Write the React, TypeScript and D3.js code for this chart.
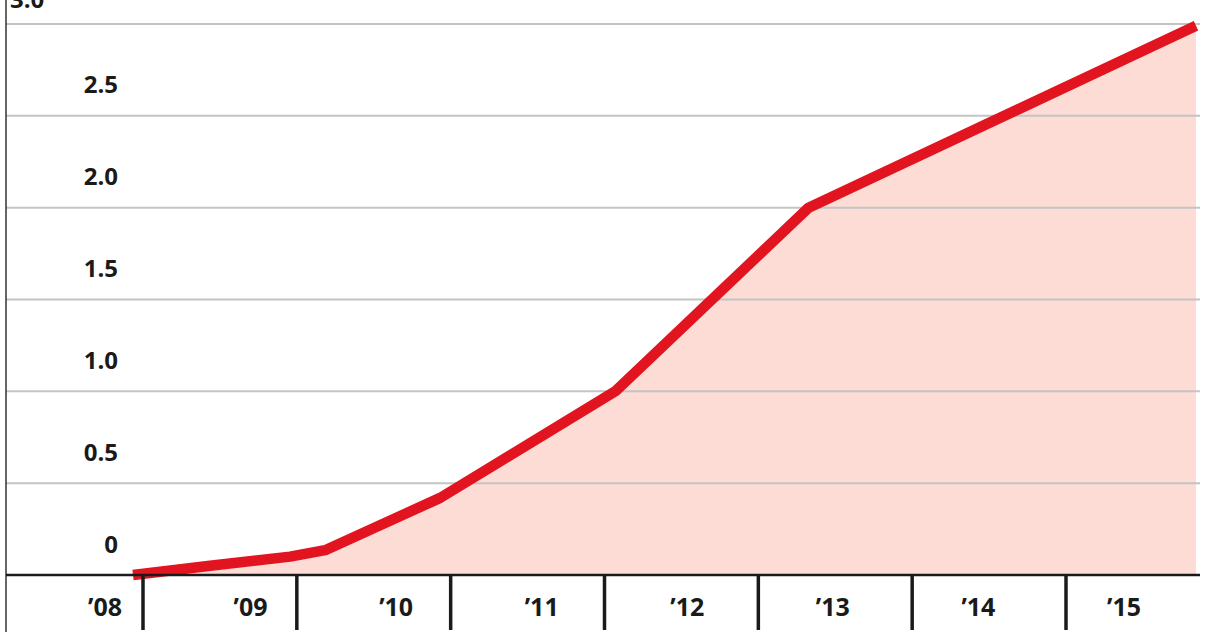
import React from "react";
import * as d3 from "d3";

const years = [2008.935, 2009.436, 2009.956, 2010.184, 2010.932, 2012.07, 2013.327, 2015.845];
const values = [0, 0.05, 0.1, 0.135, 0.42, 1.0, 2.0, 2.99];
const yTicks = [0, 0.5, 1.0, 1.5, 2.0, 2.5];
const yTickLabels = ["0", "0.5", "1.0", "1.5", "2.0", "2.5"];
const topLabel = "3.0";
const tickYears = [2009, 2010, 2011, 2012, 2013, 2014, 2015];
const xLabels = ["\u201908", "\u201909", "\u201910", "\u201911", "\u201912", "\u201913", "\u201914", "\u201915"];

export default function App() {
  const W = 1216, H = 632;
  const x = d3.scaleLinear().domain([2009, 2015]).range([143, 1066]);
  const y = d3.scaleLinear().domain([0, 3]).range([575, 24]);
  const lbl = d3.scalePoint<string>().domain(xLabels).range([105, 1124]);
  const pts = years.map((yr, i) => [yr, values[i]] as [number, number]);
  const line = d3.line<[number, number]>().x(d => x(d[0])).y(d => y(d[1]));
  const area = d3.area<[number, number]>().x(d => x(d[0])).y0(y(0)).y1(d => y(d[1]));
  const font = "'Open Sans', 'DejaVu Sans', sans-serif";
  const gridVals = [0.5, 1.0, 1.5, 2.0, 2.5, 3.0];
  return (
    <svg width={W} height={H} style={{ position: "absolute", left: 0, top: 0, background: "#fff" }}>
      <path d={area(pts) || ""} fill="#fcdcd5" />
      {gridVals.map(t => (
        <line key={t} x1={6} x2={1200} y1={y(t)} y2={y(t)} stroke="#c4c4c4" strokeWidth={2} />
      ))}
      <line x1={6} x2={6} y1={0} y2={H} stroke="#333" strokeWidth={1.5} />
      <text x={10} y={8} fontFamily={font} fontWeight={700} fontSize={24} fill="#1a1a1a">{topLabel}</text>
      {yTicks.map((t, i) => (
        <text key={t} x={118} y={y(t) - 32} textAnchor="end" dominantBaseline="central"
          fontFamily={font} fontWeight={700} fontSize={24} fill="#1a1a1a">{yTickLabels[i]}</text>
      ))}
      <path d={line(pts) || ""} fill="none" stroke="#e2141f" strokeWidth={10.5} strokeLinejoin="round" />
      <line x1={6} x2={1200} y1={y(0)} y2={y(0)} stroke="#1a1a1a" strokeWidth={2.5} />
      {tickYears.map(t => (
        <line key={t} x1={x(t)} x2={x(t)} y1={y(0)} y2={630} stroke="#1a1a1a" strokeWidth={3.5} />
      ))}
      {xLabels.map(l => (
        <text key={l} x={lbl(l)} y={606} textAnchor="middle" dominantBaseline="central"
          fontFamily={font} fontWeight={700} fontSize={25} fill="#1a1a1a">{l}</text>
      ))}
    </svg>
  );
}
